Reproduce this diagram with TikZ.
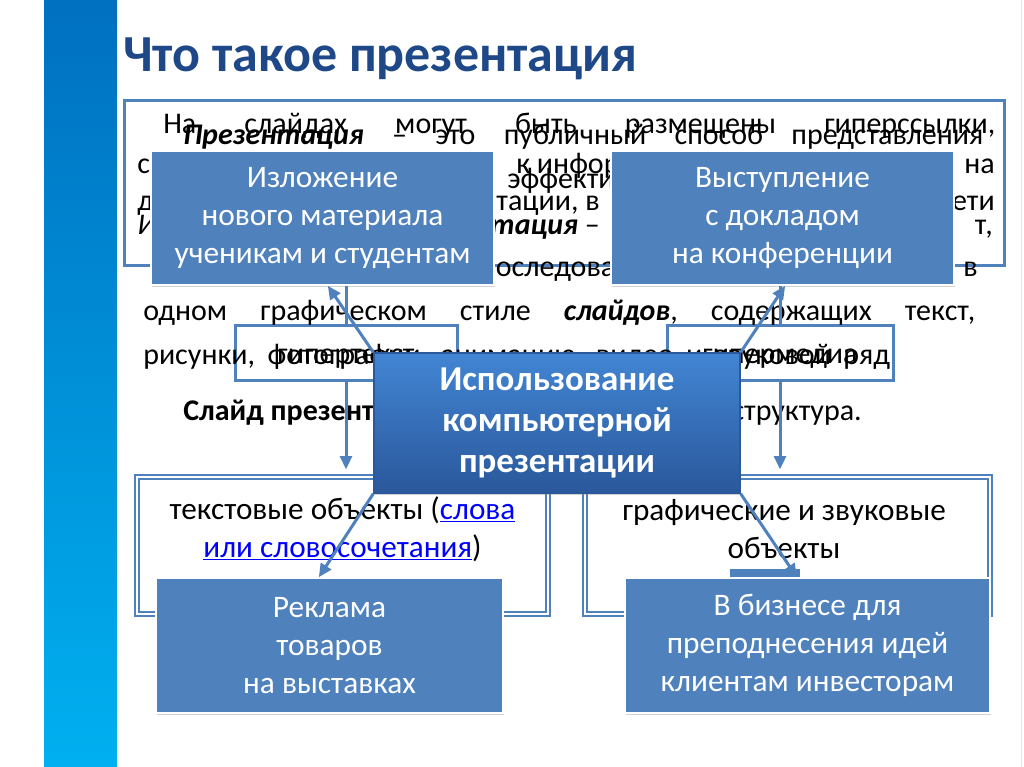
\documentclass[tikz,border=0pt]{standalone}
\usepackage{fontspec}
\setmainfont{Carlito}
\usetikzlibrary{arrows.meta,shadows}

\definecolor{barTop}{RGB}{0,112,192}
\definecolor{barBot}{RGB}{0,176,240}
\definecolor{titleblue}{RGB}{30,72,135}
\definecolor{boxblue}{RGB}{79,129,189}
\definecolor{linkblue}{RGB}{0,0,255}
\definecolor{useTop}{RGB}{66,133,212}
\definecolor{useBot}{RGB}{42,88,155}

\newcommand\bodysize{\fontsize{22.5}{26}\selectfont}

\tikzset{
  txt/.style={anchor=base west, inner sep=0pt, font=\bodysize},
  txtr/.style={anchor=base east, inner sep=0pt, font=\bodysize},
  frame/.style={draw=boxblue, line width=2.25pt, fill=white},
  dbl/.style={draw=boxblue, line width=1.5pt, double=white, double distance=1.5pt, fill=white},
  card/.style={fill=boxblue, draw=white, line width=1.2pt, text=white, align=center,
    inner sep=0pt, font=\fontsize{23.5}{28.5}\selectfont,
    drop shadow={opacity=0.35, shadow xshift=1pt, shadow yshift=-1.5pt}},
  link/.style={draw=boxblue, line width=2.25pt},
  arr/.style={link, -{Triangle[length=10pt,width=9pt]}}
}

\begin{document}
\begin{tikzpicture}[x=0.75pt, y=-0.75pt]
  \useasboundingbox (0,0) rectangle (1024,767);

  % Side bar and title
  \shade[top color=barTop, bottom color=barBot] (44,0) rectangle (117,767);
  \draw[gray!20] (1021,0) -- (1021,767);
  \node[anchor=base west, inner sep=0pt, text=titleblue,
    font=\bfseries\fontsize{39}{42}\selectfont] (title) at (123,72) {Что такое презентация};

  % Text frame and small frames
  \draw[frame] (124,100) rectangle (1004,265);
  \node[frame, minimum width=166.5pt, minimum height=41.25pt, font=\bodysize, inner sep=0pt,
    text height=16.5pt, text depth=0pt] (hypert) at (346,352.5) {гипертекст};
  \node[frame, minimum width=169.5pt, minimum height=41.25pt, font=\bodysize, inner sep=0pt,
    text height=16.5pt, text depth=0pt] (hyperm) at (780,352.5) {гипермедиа};

  % Text lines
  \node[txt] (a1) at (163,133) {\hbox to 624pt{На\hfill слайдах\hfill могут\hfill быть\hfill размещены\hfill гиперссылки,}};
  \node[txt] (b1) at (183,144) {\hbox to 600pt{\textbf{\textit{Презентация}}\hfill –\hfill это\hfill публичный\hfill способ\hfill представления}};
  \node[txt] (a2l) at (137,173) {с};
  \node[txt] (a2m) at (516,173) {к информации,};
  \node[txtr] (a2r) at (995,173) {на};
  \node[txt] (b2m) at (507,188) {эффективный};
  \node[txt] (a3l) at (137,210) {д};
  \node[txtr] (a3m) at (600,210) {презентации, в};
  \node[txtr] (a3r) at (995,210) {ети};
  \node[txt] (b3l) at (137,234) {\textit{И}};
  \node[txtr] (b3m) at (600,234) {\textbf{\textit{презентация}} –};
  \node[txtr] (b3r) at (993,234) {т,};
  \node[txt] (b4m) at (480,276) {последовательность};
  \node[txtr] (b4r) at (978,276) {в};
  \node[txt] (b5) at (143,320) {\hbox to 624pt{одном\hfill графическом\hfill стиле\hfill \textbf{\textit{слайдов}},\hfill содержащих\hfill текст,}};
  \node[txt] (b6) at (143,364) {\hbox to 560pt{рисунки,\hfill фотографии,\hfill анимацию,\hfill видео\hfill и\hfill звуковой\hfill ряд}};
  \node[txt] (b7l) at (183,420) {\textbf{Слайд презентации}};
  \node[txtr] (b7r) at (862,420) {структура.};

  % Object frames
  \node[dbl, minimum width=308.25pt, minimum height=102.75pt] (textobj) at (342.5,545.5) {};
  \node[dbl, minimum width=303.75pt, minimum height=102.75pt] (gfxobj) at (787.5,545.5) {};
  \node[align=center, inner sep=0pt, font=\fontsize{23.4}{28.5}\selectfont] (txtL) at (342.5,529)
    {текстовые объекты (\textcolor{linkblue}{\underline{слова}}\\\textcolor{linkblue}{\underline{или словосочетания}})};
  \node[align=center, inner sep=0pt, font=\fontsize{23.4}{28.5}\selectfont] (txtR) at (784,529)
    {графические и звуковые\\объекты};
  \fill[boxblue] (730,569) rectangle (800,580);

  % Upper cards
  \node[card, minimum width=257.25pt, minimum height=100.5pt] (teach) at (322.5,218)
    {Изложение\\нового материала\\ученикам и студентам};
  \node[card, minimum width=257.25pt, minimum height=100.5pt] (talk) at (782.5,218)
    {Выступление\\с докладом\\на конференции};

  % Links of the frames
  \draw[link] (hypert.north |- teach.south) -- (hypert.north);
  \draw[arr, shorten >=5pt] (hypert.south) -- (hypert.south |- textobj.north);
  \draw[link] (hyperm.north |- talk.south) -- (hyperm.north);
  \draw[arr, shorten >=5pt] (hyperm.south) -- (hyperm.south |- gfxobj.north);

  % Centre and lower cards
  \node[draw=useBot, line width=1pt, top color=useTop, bottom color=useBot, text=white, align=center,
    inner sep=0pt, minimum width=274.5pt, minimum height=105pt,
    font=\bfseries\fontsize{26.2}{31}\selectfont,
    drop shadow={opacity=0.35, shadow xshift=1pt, shadow yshift=-1.5pt}] (use) at (557,423)
    {Использование\\компьютерной\\презентации};
  \node[card, minimum width=260.25pt, minimum height=101.25pt] (ads) at (329.5,645.5)
    {Реклама\\товаров\\на выставках};
  \node[card, minimum width=273.75pt, minimum height=101.25pt] (biz) at (807.5,645.5)
    {В бизнесе для\\преподнесения идей\\клиентам инвесторам};

  % Arrows
  \draw[arr] (use.north west) -- ([xshift=4pt]teach.south);
  \draw[arr] (use.north east) -- ([xshift=2pt]talk.south);
  \draw[arr] (use.south west) -- ([xshift=-8pt]ads.north);
  \draw[arr] (use.south east) -- ([xshift=-8pt]biz.north);
\end{tikzpicture}
\end{document}
